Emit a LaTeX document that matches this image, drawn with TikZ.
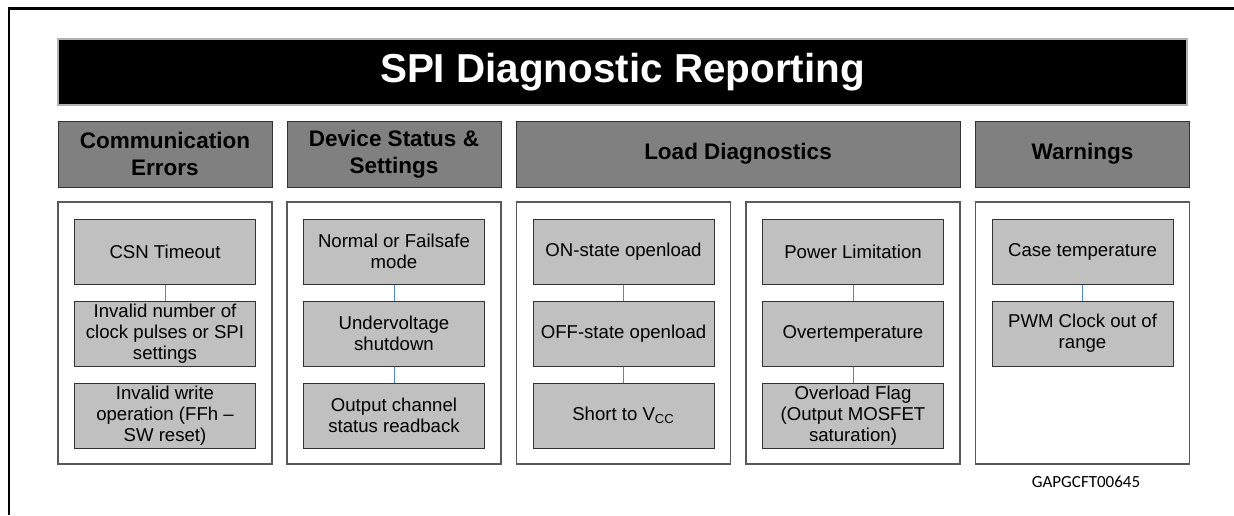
\documentclass[tikz,border=0pt]{standalone}
\usepackage{fontspec}
\setmainfont{Liberation Sans}
\newfontfamily\codefont{Carlito}
\usetikzlibrary{positioning}
\definecolor{hdrgray}{HTML}{808080}
\definecolor{itemgray}{HTML}{C0C0C0}
\definecolor{linkblue}{HTML}{4F86D6}
\tikzset{
  titlebar/.style={fill=black, draw=gray!60, line width=0.6pt, text=white,
    font=\fontsize{20.2}{24}\selectfont\bfseries,
    minimum width=564.5pt, minimum height=33pt, inner sep=0pt},
  hdr/.style={fill=hdrgray, draw=black!80, line width=0.5pt,
    font=\fontsize{11.25}{13.5}\selectfont\bfseries, align=center,
    minimum width=107pt, minimum height=33pt, inner sep=0pt},
  panel/.style={draw=black!65, line width=0.6pt,
    minimum width=107pt, minimum height=131pt, inner sep=0pt},
  item/.style={fill=itemgray, draw=black!80, line width=0.5pt,
    font=\fontsize{9.3}{10.5}\selectfont, align=center,
    minimum width=90.5pt, minimum height=32.5pt, inner sep=0pt},
  link/.style={draw=linkblue, line width=0.5pt},
}
\begin{document}
\begin{tikzpicture}[x=0.5pt, y=-0.5pt, node distance=8pt]
  \useasboundingbox (0,0) rectangle (1234,515);
  % Rahmen
  \draw[line width=1.3pt] (9,515) -- (9,8.5) -- (1234,8.5);
  % Titel
  \node[titlebar] (title) at (622.5,72) {SPI Diagnostic Reporting};
  % Kopfzeilen
  \node[hdr] (comm) at (165,154) {Communication\\Errors};
  \node[hdr] (dev) at (394,154) {Device Status \&\\Settings};
  \node[hdr, minimum width=222pt] (load) at (738,154) {Load Diagnostics};
  \node[hdr] (warn) at (1082.5,154) {Warnings};
  % Rahmen der Spalten
  \node[panel] (pcomm) at (165,333) {};
  \node[panel] (pdev) at (394,333) {};
  \node[panel] (pload) at (623.5,333) {};
  \node[panel] (pflag) at (853,333) {};
  \node[panel] (pwarn) at (1082.5,333) {};
  % Communication Errors
  \node[item] (c1) at (165,251.5) {CSN Timeout};
  \node[item, below=of c1] (c2) {Invalid number of\\clock pulses or SPI\\settings};
  \node[item, below=of c2] (c3) {Invalid write\\operation (FFh --\\SW reset)};
  \draw[link] (c1) -- (c2);
  % Device Status & Settings
  \node[item] (d1) at (394,251.5) {Normal or Failsafe\\mode};
  \node[item, below=of d1] (d2) {Undervoltage\\shutdown};
  \node[item, below=of d2] (d3) {Output channel\\status readback};
  \draw[link] (d1) -- (d2);
  \draw[link] (d2) -- (d3);
  % Load Diagnostics
  \node[item] (l1) at (623.5,251.5) {ON-state openload};
  \node[item, below=of l1] (l2) {OFF-state openload};
  \node[item, below=of l2] (l3) {Short to V\textsubscript{CC}};
  \draw[link] (l1) -- (l2);
  \draw[link] (l2) -- (l3);
  \node[item] (f1) at (853,251.5) {Power Limitation};
  \node[item, below=of f1] (f2) {Overtemperature};
  \node[item, below=of f2] (f3) {Overload Flag\\(Output MOSFET\\saturation)};
  \draw[link] (f1) -- (f2);
  \draw[link] (f2) -- (f3);
  % Warnings
  \node[item] (w1) at (1082.5,251.5) {Case temperature};
  \node[item, below=of w1] (w2) {PWM Clock out of\\range};
  \draw[link] (w1) -- (w2);
  % Kennung
  \node[font=\codefont\fontsize{8.5}{10}\selectfont] (code) at (1086,482) {GAPGCFT00645};
\end{tikzpicture}
\end{document}
